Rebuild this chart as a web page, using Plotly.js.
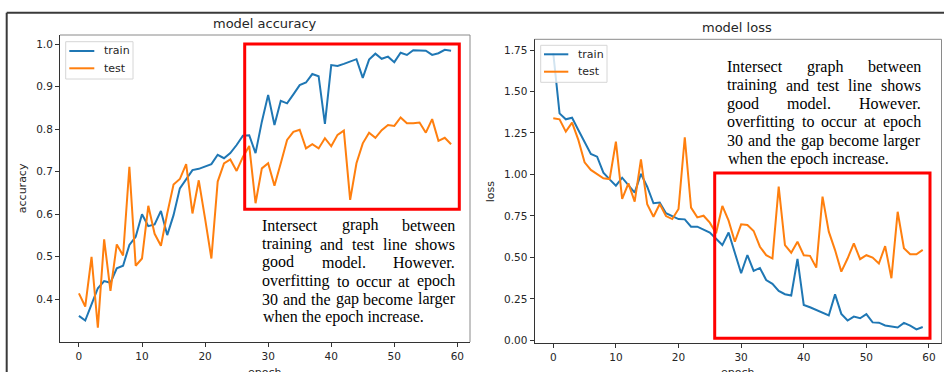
<!DOCTYPE html>
<html>
<head>
<meta charset="utf-8">
<script src="https://cdn.plot.ly/plotly-3.0.1.min.js"></script>
<style>
html,body{margin:0;padding:0;background:#fff;overflow:hidden;}
#chart{width:944px;height:372px;}
#measure{position:absolute;left:-9999px;top:-9999px;white-space:pre;font-family:'Liberation Serif','Times New Roman',serif;font-size:16px;}
</style>
</head>
<body>
<div id="chart"></div>
<span id="measure"></span>
<script>
// ---- data ----
const epochs = Array.from({length: 60}, (_, i) => i);

const accTrain = [
  0.361, 0.350, 0.388, 0.426, 0.443, 0.439, 0.473, 0.479, 0.528, 0.547,
  0.600, 0.572, 0.576, 0.608, 0.551, 0.598, 0.661, 0.681, 0.704, 0.707,
  0.712, 0.718, 0.740, 0.732, 0.744, 0.763, 0.785, 0.786, 0.744, 0.818,
  0.881, 0.810, 0.867, 0.861, 0.882, 0.904, 0.910, 0.930, 0.925, 0.813,
  0.951, 0.949, 0.954, 0.960, 0.965, 0.921, 0.964, 0.978, 0.966, 0.971,
  0.958, 0.980, 0.975, 0.986, 0.985, 0.985, 0.975, 0.979, 0.987, 0.985
];
const accTest = [
  0.414, 0.383, 0.500, 0.333, 0.541, 0.420, 0.529, 0.503, 0.712, 0.479,
  0.496, 0.620, 0.554, 0.526, 0.602, 0.670, 0.683, 0.718, 0.602, 0.680,
  0.590, 0.496, 0.677, 0.720, 0.729, 0.702, 0.735, 0.761, 0.626, 0.708,
  0.720, 0.667, 0.720, 0.775, 0.794, 0.799, 0.755, 0.765, 0.755, 0.779,
  0.760, 0.787, 0.797, 0.634, 0.720, 0.767, 0.792, 0.780, 0.798, 0.810,
  0.808, 0.828, 0.814, 0.814, 0.816, 0.792, 0.824, 0.773, 0.780, 0.765
];
const lossTrain = [
  1.730, 1.368, 1.332, 1.342, 1.268, 1.197, 1.123, 1.107, 1.011, 0.970,
  0.932, 0.980, 0.936, 0.890, 1.003, 0.926, 0.826, 0.830, 0.766, 0.750,
  0.731, 0.729, 0.685, 0.685, 0.665, 0.649, 0.612, 0.574, 0.650, 0.524,
  0.404, 0.514, 0.418, 0.436, 0.363, 0.340, 0.298, 0.278, 0.270, 0.491,
  0.213, 0.199, 0.183, 0.169, 0.150, 0.277, 0.159, 0.119, 0.143, 0.133,
  0.158, 0.108, 0.106, 0.089, 0.085, 0.077, 0.105, 0.088, 0.066, 0.080
];
const lossTest = [
  1.338, 1.332, 1.258, 1.312, 1.208, 1.073, 1.027, 1.003, 0.977, 0.972,
  1.197, 0.852, 0.946, 0.836, 1.091, 0.820, 0.745, 0.822, 0.749, 0.731,
  0.792, 1.224, 0.800, 0.741, 0.751, 0.709, 0.645, 0.810, 0.721, 0.594,
  0.699, 0.695, 0.659, 0.564, 0.513, 0.493, 0.926, 0.574, 0.528, 0.594,
  0.513, 0.509, 0.438, 0.866, 0.655, 0.544, 0.414, 0.493, 0.585, 0.489,
  0.513, 0.499, 0.463, 0.568, 0.374, 0.775, 0.555, 0.519, 0.519, 0.545
];

const seriesNames = ["train", "test"];
const titles = ["model accuracy", "model loss"];
const yTitles = ["accuracy", "loss"];
const xTitle = "epoch";
const xTicks = [0, 10, 20, 30, 40, 50, 60];
const accTicks = [0.4, 0.5, 0.6, 0.7, 0.8, 0.9, 1.0];
const lossTicks = [0.00, 0.25, 0.50, 0.75, 1.00, 1.25, 1.50, 1.75];
const noteLines = [
  "Intersect graph between",
  "training and test line shows",
  "good model. However.",
  "overfitting to occur at epoch",
  "30 and the gap become larger",
  "when the epoch increase."
];

// ---- layout helpers ----
const W = 944, H = 372;
const px = x => x / W;
const py = y => 1 - y / H;
const BLUE = "#1f77b4", ORANGE = "#ff7f0e";
const COLORS = [BLUE, ORANGE];
const SANS = "DejaVu Sans, Arial, sans-serif";
const SERIF = "Liberation Serif, Times New Roman, serif";
const TXT = "#262626";

const L = {x0: 60, x1: 470, y0: 35, y1: 342};
const R = {x0: 534.5, x1: 941.5, y0: 39.3, y1: 343.3};

function line(x, y, color, name, xa, ya) {
  return {x, y, type: "scatter", mode: "lines", name,
    line: {color, width: 2}, xaxis: xa, yaxis: ya, showlegend: false};
}

const data = [
  line(epochs, accTrain, BLUE, seriesNames[0], "x", "y"),
  line(epochs, accTest, ORANGE, seriesNames[1], "x", "y"),
  line(epochs, lossTrain, BLUE, seriesNames[0], "x2", "y2"),
  line(epochs, lossTest, ORANGE, seriesNames[1], "x2", "y2")
];

function xAxis(box, anchor) {
  return {domain: [px(box.x0), px(box.x1)], anchor, range: [-3, 62],
    tickvals: xTicks, ticks: "outside", ticklen: 4, tickcolor: "#333",
    showline: true, linecolor: "#333", linewidth: 1, showgrid: false, zeroline: false,
    tickfont: {family: SANS, size: 10.5, color: TXT},
    automargin: false, fixedrange: true};
}
function yAxis(box, anchor, range, ticks, fmt) {
  return {domain: [py(box.y1), py(box.y0)], anchor, range,
    tickvals: ticks, tickformat: fmt, ticks: "outside", ticklen: 4, tickcolor: "#333",
    showline: true, linecolor: "#333", linewidth: 1, showgrid: false, zeroline: false,
    tickfont: {family: SANS, size: 10.5, color: TXT},
    automargin: false, fixedrange: true};
}

const shapes = [];
const annotations = [];

// outer frame of the composite
shapes.push({type: "line", xref: "paper", yref: "paper", x0: px(6.7), x1: px(944), y0: py(12.7), y1: py(12.7), line: {color: "#3a3a3a", width: 2}});
shapes.push({type: "line", xref: "paper", yref: "paper", x0: px(6.7), x1: px(6.7), y0: py(12.7), y1: py(372), line: {color: "#3a3a3a", width: 2}});

// top/right spines (lighter)
[L, R].forEach(b => {
  shapes.push({type: "line", xref: "paper", yref: "paper", x0: px(b.x0), x1: px(b.x1), y0: py(b.y0), y1: py(b.y0), line: {color: "#8a8a8a", width: 1}});
  shapes.push({type: "line", xref: "paper", yref: "paper", x0: px(b.x1), x1: px(b.x1), y0: py(b.y0), y1: py(b.y1), line: {color: "#8a8a8a", width: 1}});
});

// red highlight boxes
shapes.push({type: "rect", xref: "paper", yref: "paper", x0: px(244.7), x1: px(459.3), y0: py(209.3), y1: py(44), line: {color: "#ff0000", width: 3}});
shapes.push({type: "rect", xref: "paper", yref: "paper", x0: px(714.7), x1: px(930), y0: py(338.3), y1: py(173), line: {color: "#ff0000", width: 3}});

// titles
annotations.push({text: titles[0], xref: "paper", yref: "paper", x: px(264.5), y: py(24), xanchor: "center", yanchor: "middle", showarrow: false, font: {family: SANS, size: 13, color: TXT}});
annotations.push({text: titles[1], xref: "paper", yref: "paper", x: px(737), y: py(27.7), xanchor: "center", yanchor: "middle", showarrow: false, font: {family: SANS, size: 13, color: TXT}});

// axis titles
annotations.push({text: yTitles[0], xref: "paper", yref: "paper", x: px(22.7), y: py((L.y0 + L.y1) / 2), xanchor: "center", yanchor: "middle", textangle: -90, showarrow: false, font: {family: SANS, size: 11, color: TXT}});
annotations.push({text: yTitles[1], xref: "paper", yref: "paper", x: px(490), y: py((R.y0 + R.y1) / 2), xanchor: "center", yanchor: "middle", textangle: -90, showarrow: false, font: {family: SANS, size: 11, color: TXT}});
annotations.push({text: xTitle, xref: "paper", yref: "paper", x: px(265), y: py(365), xanchor: "center", yanchor: "top", showarrow: false, borderpad: 0, font: {family: SANS, size: 11, color: TXT}});
annotations.push({text: xTitle, xref: "paper", yref: "paper", x: px(738), y: py(365), xanchor: "center", yanchor: "top", showarrow: false, borderpad: 0, font: {family: SANS, size: 11, color: TXT}});

// legends (box, sample lines, labels)
function legendBox(bx0, by0, bx1, by1, lx0, lx1, ly, tx) {
  shapes.push({type: "rect", xref: "paper", yref: "paper", x0: px(bx0), x1: px(bx1), y0: py(by1), y1: py(by0),
    fillcolor: "rgba(255,255,255,0.8)", line: {color: "#d6d6d6", width: 1}});
  seriesNames.forEach((n, i) => {
    shapes.push({type: "line", xref: "paper", yref: "paper", x0: px(lx0), x1: px(lx1), y0: py(ly[i]), y1: py(ly[i]),
      line: {color: COLORS[i], width: 2}});
    annotations.push({text: n, xref: "paper", yref: "paper", x: px(tx), y: py(ly[i]), xanchor: "left", yanchor: "middle",
      showarrow: false, borderpad: 0, font: {family: SANS, size: 11, color: TXT}});
  });
}
legendBox(65.7, 41.7, 133, 79, 69.3, 94.3, [51, 68.3], 102.5);
legendBox(540.7, 45.3, 607, 82.3, 544, 568.3, [54.3, 71.7], 577.3);

// justified notes (word widths measured with the same font in the DOM)
const FS = 16;
const meas = document.getElementById("measure");
function textWidth(t) { meas.textContent = t; return meas.getBoundingClientRect().width; }
function justified(left, right, yCenters) {
  noteLines.forEach((ln, i) => {
    const words = ln.split(" ");
    const last = i === noteLines.length - 1;
    if (last) {
      annotations.push({text: ln, xref: "paper", yref: "paper", x: px(left), y: py(yCenters[i]), xanchor: "left", yanchor: "middle", showarrow: false, borderpad: 0, font: {family: SERIF, size: FS, color: "#000"}});
      return;
    }
    const widths = words.map(textWidth);
    const total = widths.reduce((a, b) => a + b, 0);
    const gap = (right - left - total) / (words.length - 1);
    let cx = left;
    words.forEach((w, j) => {
      annotations.push({text: w, xref: "paper", yref: "paper",
        x: px(cx + widths[j] / 2), y: py(yCenters[i]),
        xanchor: "center", yanchor: "middle", showarrow: false, borderpad: 0,
        font: {family: SERIF, size: FS, color: "#000"}});
      cx += widths[j] + gap;
    });
  });
}

justified(262, 455.3, [225.3, 244.3, 262.3, 281, 299, 316.7]);
justified(727.3, 921, [66.7, 85, 104, 122, 140.7, 159]);
meas.remove();

const layout = {
  width: W, height: H,
  margin: {l: 0, r: 0, t: 0, b: 0},
  paper_bgcolor: "#ffffff", plot_bgcolor: "#ffffff",
  showlegend: false,
  xaxis: xAxis(L, "y"),
  yaxis: yAxis(L, "x", [0.2995, 1.0219], accTicks, ".1f"),
  xaxis2: xAxis(R, "y2"),
  yaxis2: yAxis(R, "x2", [-0.0181, 1.8145], lossTicks, ".2f"),
  shapes, annotations
};

Plotly.newPlot("chart", data, layout, {staticPlot: true, displayModeBar: false});
</script>
</body>
</html>
